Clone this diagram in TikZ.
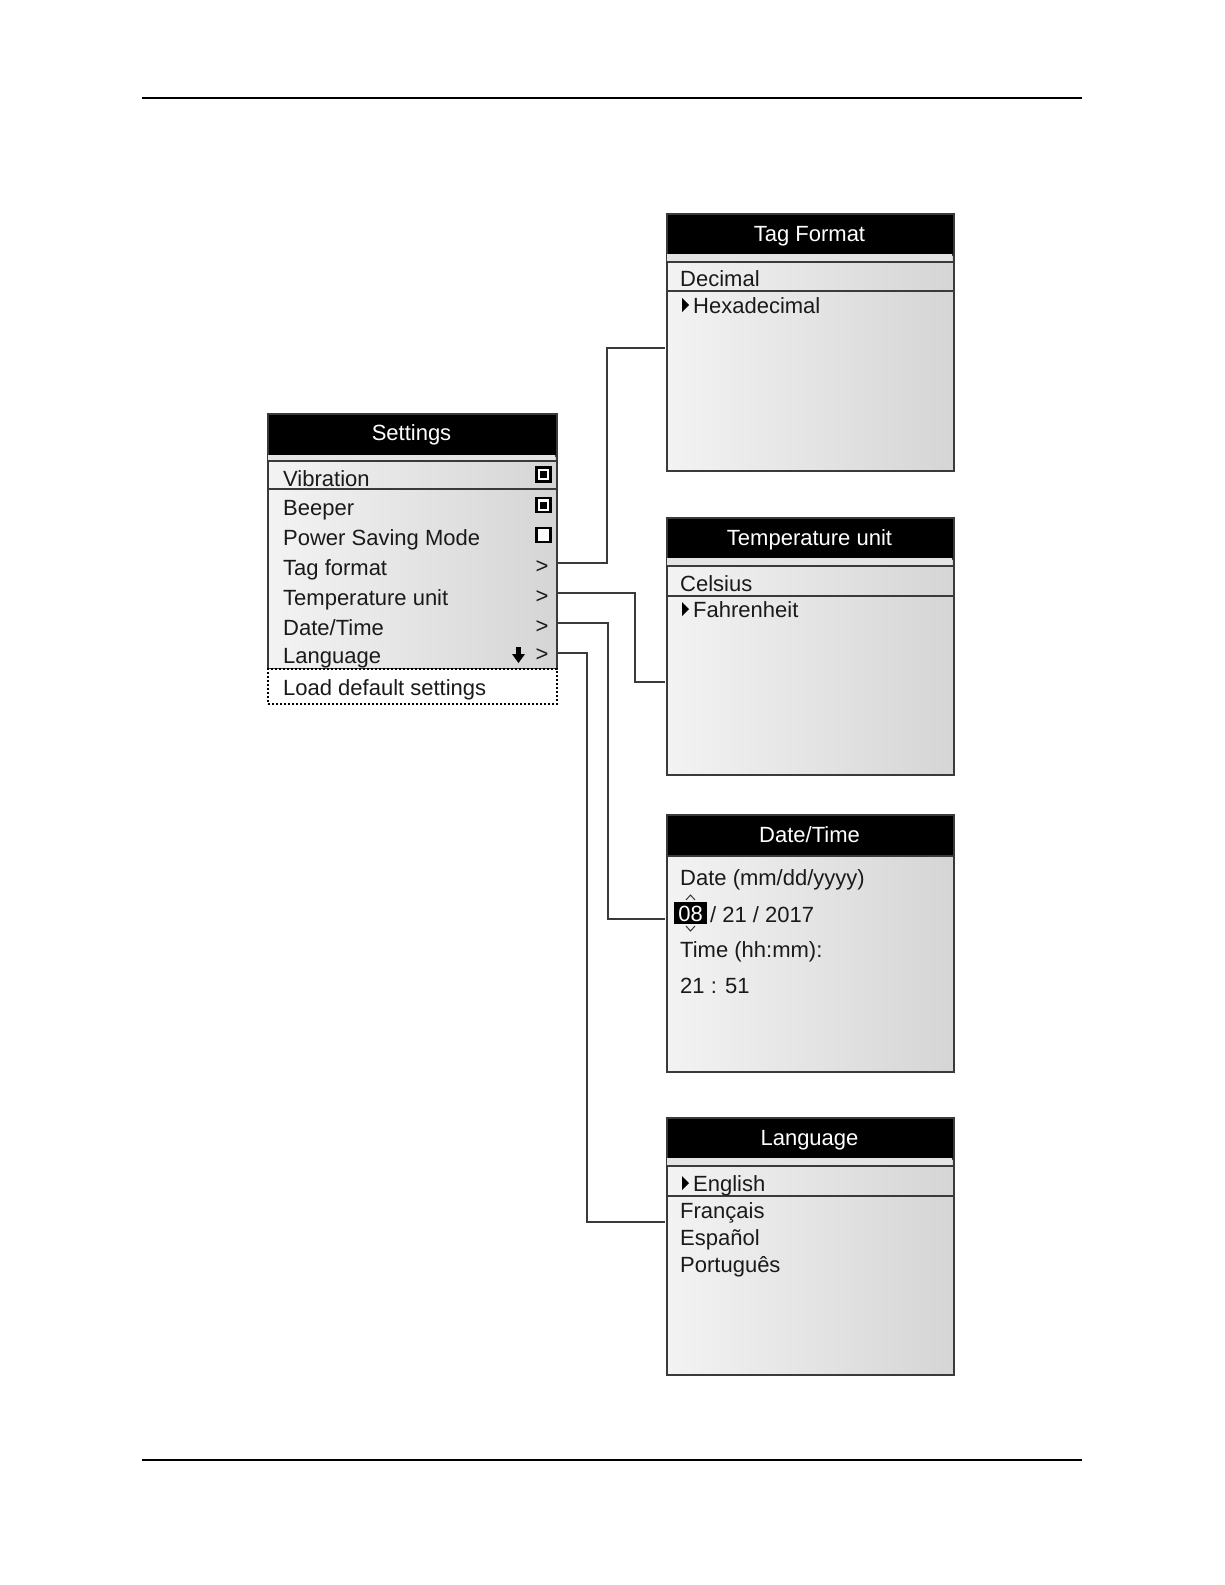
\documentclass[tikz,border=0pt]{standalone}
\usepackage{fontspec}
\setmainfont{Liberation Sans}
\definecolor{gL}{HTML}{F3F3F3}
\definecolor{gR}{HTML}{D5D5D5}
\definecolor{edgec}{HTML}{3A3A3A}
\definecolor{stripc}{HTML}{E4E4E4}
\definecolor{txtc}{HTML}{1A1A1A}
\begin{document}
\begin{tikzpicture}[x=1pt,y=-1pt,
  font=\fontsize{22}{26}\selectfont,
  panel/.style={draw=edgec, line width=2pt, left color=gL, right color=gR, inner sep=0pt, anchor=north west},
  titlebar/.style={draw=edgec, line width=2pt, fill=black, inner sep=0pt, anchor=north west},
  strip/.style={fill=stripc, draw=none, inner sep=0pt, anchor=north west},
  rowline/.style={draw=edgec, line width=2pt},
  txt/.style={anchor=base west, inner sep=0pt, text=txtc},
  ttl/.style={anchor=base, inner sep=0pt, text=white},
  chev/.style={anchor=base, inner sep=0pt, text=txtc},
  chk/.style={draw=black, line width=2.2pt, fill=white, minimum size=14pt, inner sep=0pt},
  chkdot/.style={fill=black, minimum size=7pt, inner sep=0pt},
  conn/.style={draw=edgec, line width=2pt, line join=miter},
  rule/.style={draw=black},
  marker/.style={fill=black}
]
\useasboundingbox (0,0) rectangle (1225,1585);

% page rules
\coordinate (rt1) at (142,98);
\coordinate (rt2) at (1082,98);
\coordinate (rb1) at (142,1460);
\coordinate (rb2) at (1082,1460);
\draw[rule, line width=1.5pt] (rt1) -- (rt2);
\draw[rule, line width=2.5pt] (rb1) -- (rb2);

% ---------------- Settings ----------------
\node[panel, minimum width=289pt, minimum height=255pt] (set) at (267,413) {};
\node[titlebar, minimum width=289pt, minimum height=42pt] (setT) at (267,413) {};
\node[ttl] (setTt) at (411.5,440) {Settings};
\node[strip, minimum width=287pt, minimum height=6pt] (setS) at (268,455) {};
\draw[rowline] (267,461) -- (556,461);
\draw[rowline] (267,489) -- (556,489);
\node[txt] (s1) at (283,486) {Vibration};
\node[txt] (s2) at (283,515) {Beeper};
\node[txt] (s3) at (283,545) {Power Saving Mode};
\node[txt] (s4) at (283,575) {Tag format};
\node[txt] (s5) at (283,605) {Temperature unit};
\node[txt] (s6) at (283,635) {Date/Time};
\node[txt] (s7) at (283,663) {Language};
\node[chk] (c1) at (543.5,474.5) {};
\node[chkdot] (c1d) at (543.5,474.5) {};
\node[chk] (c2) at (543.5,505) {};
\node[chkdot] (c2d) at (543.5,505) {};
\node[chk] (c3) at (543.5,535) {};
\node[chev] (g4) at (542,573) {>};
\node[chev] (g5) at (542,603) {>};
\node[chev] (g6) at (542,633) {>};
\node[chev] (g7) at (542,661) {>};
\fill[marker] (516,647) rectangle (521,655);
\fill[marker] (512,654) -- (525,654) -- (518.5,663) -- cycle;
% Load default settings
\node[draw=black, line width=2pt, dash pattern=on 2pt off 2pt, fill=white, minimum width=289pt, minimum height=35pt, inner sep=0pt, anchor=north west] (load) at (267,668) {};
\node[txt] (s8) at (283,695) {Load default settings};

% ---------------- Tag Format ----------------
\node[panel, minimum width=287pt, minimum height=257pt] (tag) at (666,213) {};
\node[titlebar, minimum width=287pt, minimum height=41pt] (tagT) at (666,213) {};
\node[ttl] (tagTt) at (809.5,241) {Tag Format};
\node[strip, minimum width=285pt, minimum height=7pt] (tagS) at (667,254) {};
\draw[rowline] (666,262) -- (953,262);
\draw[rowline] (666,291) -- (953,291);
\node[txt] (t1) at (680,286) {Decimal};
\fill[marker] (682,298) -- (682,312) -- (689,305) -- cycle;
\node[txt] (t2) at (693,313) {Hexadecimal};

% ---------------- Temperature unit ----------------
\node[panel, minimum width=287pt, minimum height=257pt] (tmp) at (666,517) {};
\node[titlebar, minimum width=287pt, minimum height=41pt] (tmpT) at (666,517) {};
\node[ttl] (tmpTt) at (809.5,545) {Temperature unit};
\node[strip, minimum width=285pt, minimum height=7pt] (tmpS) at (667,558) {};
\draw[rowline] (666,566) -- (953,566);
\draw[rowline] (666,596) -- (953,596);
\node[txt] (u1) at (680,591) {Celsius};
\fill[marker] (682,602) -- (682,616) -- (689,609) -- cycle;
\node[txt] (u2) at (693,617) {Fahrenheit};

% ---------------- Date/Time ----------------
\node[panel, minimum width=287pt, minimum height=257pt] (dat) at (666,814) {};
\node[titlebar, minimum width=287pt, minimum height=41pt] (datT) at (666,814) {};
\node[ttl] (datTt) at (809.5,842) {Date/Time};
\node[txt] (d1) at (680,885) {Date (mm/dd/yyyy)};
\node[fill=black, minimum width=33pt, minimum height=22pt, inner sep=0pt, anchor=north west] (d08) at (674,902) {};
\node[anchor=base, inner sep=0pt, text=white] (d08t) at (690.5,921) {08};
\draw[edgec, line width=1pt] (686,900) -- (690.5,895) -- (695,900);
\draw[edgec, line width=1pt] (686,926) -- (690.5,931) -- (695,926);
\node[txt] (d2) at (710,922) {/ 21 / 2017};
\node[txt] (d3) at (680,957) {Time (hh:mm):};
\node[txt] (d4) at (680,993) {21 : 51};

% ---------------- Language ----------------
\node[panel, minimum width=287pt, minimum height=257pt] (lng) at (666,1117) {};
\node[titlebar, minimum width=287pt, minimum height=41pt] (lngT) at (666,1117) {};
\node[ttl] (lngTt) at (809.5,1145) {Language};
\node[strip, minimum width=285pt, minimum height=7pt] (lngS) at (667,1158) {};
\draw[rowline] (666,1166) -- (953,1166);
\draw[rowline] (666,1196) -- (953,1196);
\fill[marker] (682,1176) -- (682,1190) -- (689,1183) -- cycle;
\node[txt] (l1) at (693,1191) {English};
\node[txt] (l2) at (680,1218) {Français};
\node[txt] (l3) at (680,1245) {Español};
\node[txt] (l4) at (680,1272) {Português};

% ---------------- connectors ----------------
\coordinate (aTag) at (557,563);
\coordinate (aTmp) at (557,593);
\coordinate (aDat) at (557,623);
\coordinate (aLng) at (557,653);
\coordinate (bTag) at (665,348);
\coordinate (bTmp) at (665,682);
\coordinate (bDat) at (665,919);
\coordinate (bLng) at (665,1222);
\draw[conn] (aTag) -- ++(50,0) |- (bTag);
\draw[conn] (aTmp) -- ++(78,0) |- (bTmp);
\draw[conn] (aDat) -- ++(51,0) |- (bDat);
\draw[conn] (aLng) -- ++(30,0) |- (bLng);
\end{tikzpicture}
\end{document}
